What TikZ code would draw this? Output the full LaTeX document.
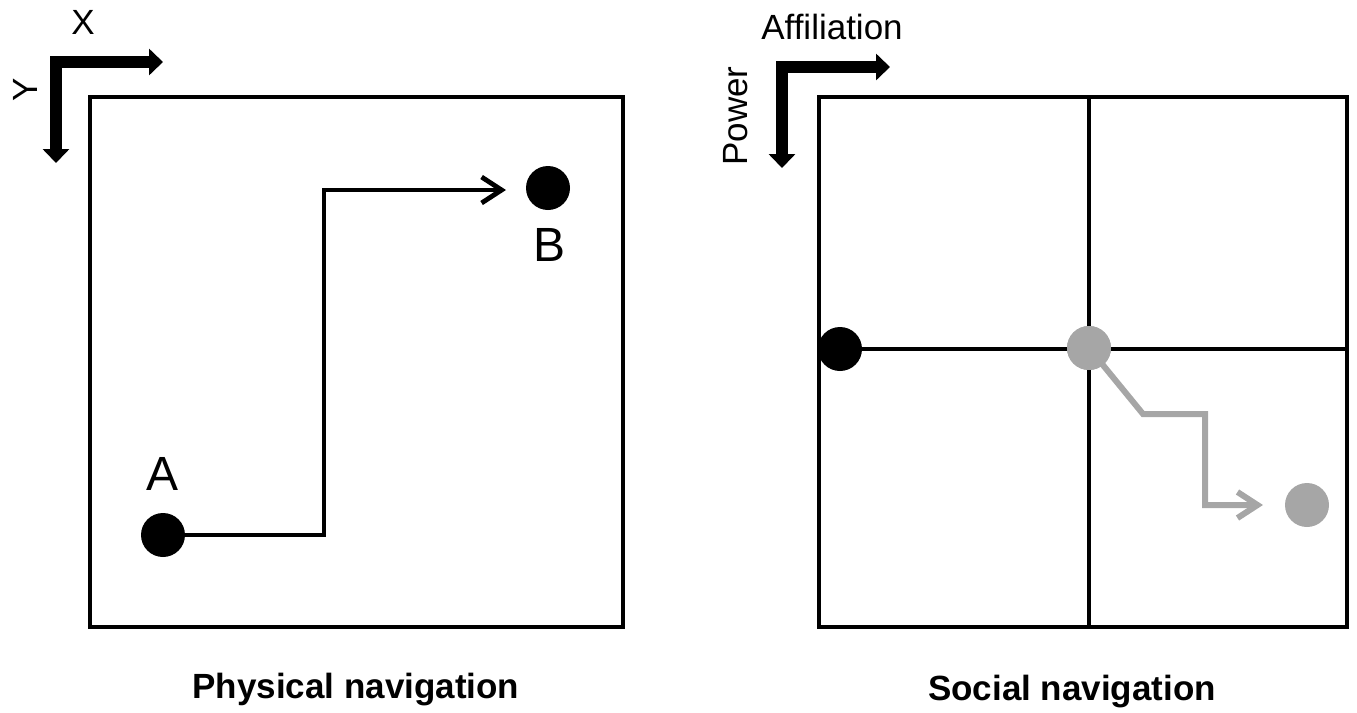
\documentclass[tikz,border=0pt]{standalone}
\usepackage{fontspec}
\setmainfont{Liberation Sans}
\usetikzlibrary{arrows.meta}
\begin{document}
\begin{tikzpicture}[x=0.5pt,y=-0.5pt,
  frame/.style={line width=2.3pt, line join=miter},
  dot/.style={circle, fill=black, inner sep=0pt, minimum size=22pt},
  graydot/.style={circle, fill=gray!70, inner sep=0pt, minimum size=22pt},
  axis/.style={line width=6.3pt, line join=miter, {Triangle[length=7pt,width=13pt]}-{Triangle[length=7pt,width=13pt]}},
  route/.style={line width=2.4pt, line join=miter, -{Straight Barb[length=10pt,width=13pt,line width=2.4pt]}},
  grayroute/.style={line width=3pt, line join=miter, draw=gray!70, -{Straight Barb[length=10pt,width=13pt,line width=3pt]}},
  lbl/.style={font=\fontsize{17.5}{20}\selectfont, inner sep=0pt},
  big/.style={font=\fontsize{24}{27}\selectfont, inner sep=0pt},
  captxt/.style={font=\fontsize{17.5}{20}\selectfont\bfseries, inner sep=0pt}]
\useasboundingbox (0,0) rectangle (1357,713);
% ---------- Left panel ----------
\draw[frame] (90,97) rectangle (623,627);
\coordinate (LX) at (163,62);
\coordinate (LY) at (56,163);
\coordinate (LC) at (56,62);
\draw[axis] (LX) -- (LC) -- (LY);
\node[lbl] (Xl) at (83,22) {X};
\node[lbl, rotate=90] (Yl) at (25,90) {Y};
\node[dot] (A) at (163,535) {};
\node[dot] (B) at (548,188) {};
\node[big] (Al) at (163,474) {A};
\node[big] (Bl) at (550,245) {B};
\coordinate (p1) at (324,535);
\coordinate (p2) at (324,190);
\coordinate (pe) at (506,190);
\draw[route] (A.center) -- (p1) -- (p2) -- (pe);
\node[captxt] (c1) at (356,690) {Physical navigation};
% ---------- Right panel ----------
\draw[frame] (819,97) rectangle (1347,627);
\coordinate (vt) at (1089,97);
\coordinate (vb) at (1089,627);
\coordinate (hl) at (819,349);
\coordinate (hr) at (1347,349);
\draw[frame] (vt) -- (vb);
\draw[frame] (hl) -- (hr);
\coordinate (RX) at (890,67);
\coordinate (RY) at (782,168);
\coordinate (RC) at (782,67);
\draw[axis] (RX) -- (RC) -- (RY);
\node[lbl] (Af) at (832,27) {Affiliation};
\node[lbl, rotate=90] (Pw) at (736,116) {Power};
\node[dot] (S) at (840,349) {};
\node[graydot] (G1) at (1089,348) {};
\node[graydot] (G2) at (1307,505) {};
\coordinate (q1) at (1143,414);
\coordinate (q2) at (1205,414);
\coordinate (q3) at (1205,505);
\coordinate (qe) at (1263,505);
\draw[grayroute] (G1.center) -- (q1) -- (q2) -- (q3) -- (qe);
\node[graydot] at (G1) {};
\node[captxt] (c2) at (1072,692) {Social navigation};
\end{tikzpicture}
\end{document}
